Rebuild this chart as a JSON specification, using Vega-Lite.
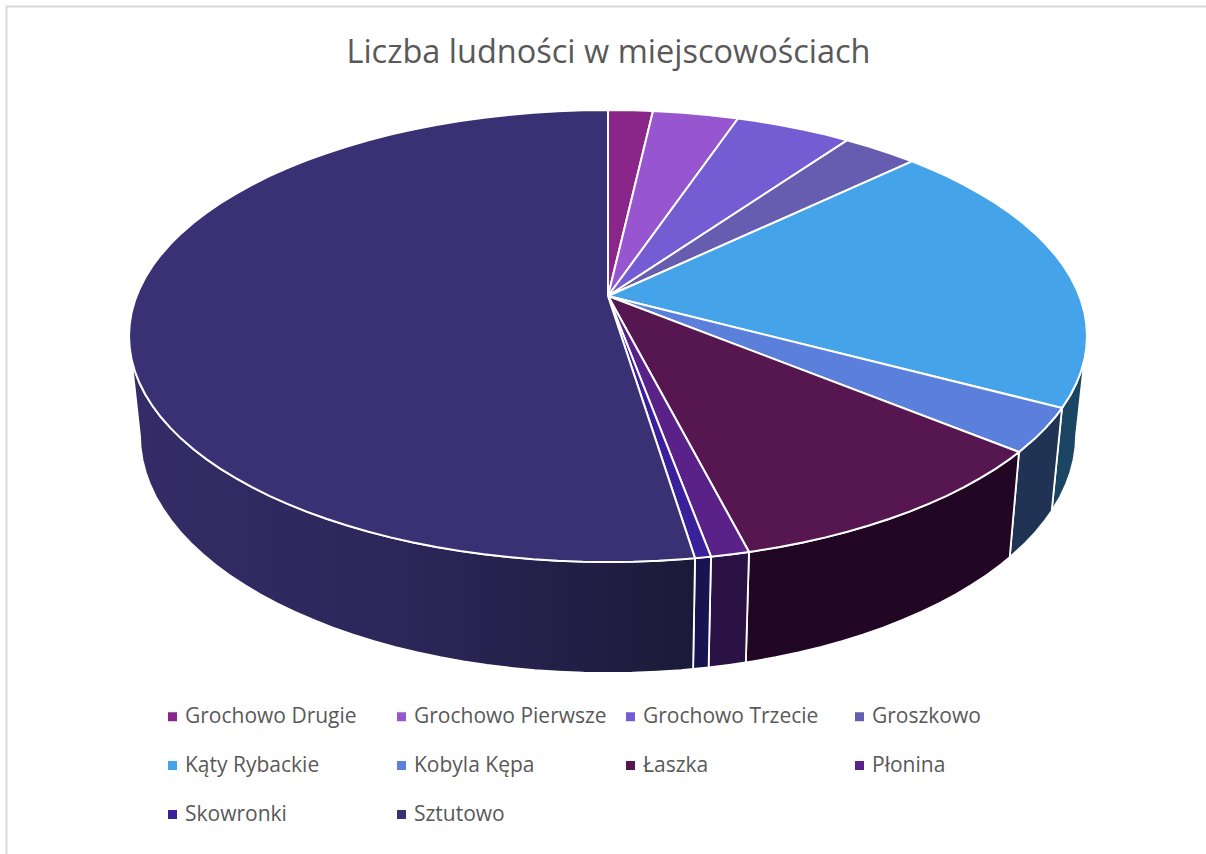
{"$schema":"https://vega.github.io/schema/vega-lite/v6.json","width":1206,"height":854,"padding":0,"autosize":{"type":"none"},"background":"white","config":{"view":{"stroke":null}},
"title":{"text":"Liczba ludności w miejscowościach","font":"Open Sans","fontSize":32.5,"fontWeight":"normal","color":"#595959","anchor":"middle","frame":"group","offset":-95,"dx":5.5,"baseline":"alphabetic"},
"projection":{"type":"identity","scale":1,"translate":[608,336],"reflectY":true},
"data":{"values":[
{"type":"Feature","properties":{"part":"frame"},"geometry":{"type":"LineString","coordinates":[[-601.5,-600],[-601.5,329.5],[700,329.5]]}},
{"type":"Feature","properties":{"part":"wall","name":"Kąty Rybackie"},"geometry":{"type":"Polygon","coordinates":[[[479,0],[478.3,-11.8],[476.4,-23.6],[473.1,-35.3],[468.5,-47],[462.7,-58.5],[454,-72],[443.7,-174.9],[452.2,-160.6],[457.9,-148.5],[462.3,-136.2],[465.5,-123.9],[467.4,-111.4],[468.1,-99],[479,0]]]}},
{"type":"Feature","properties":{"part":"wall","name":"Kobyla Kępa"},"geometry":{"type":"Polygon","coordinates":[[[454,-72],[447.2,-81],[437.6,-91.9],[426.8,-102.6],[411,-116],[401.7,-221.2],[417.1,-207.1],[427.7,-195.8],[437,-184.3],[443.7,-174.9],[454,-72]]]}},
{"type":"Feature","properties":{"part":"wall","name":"Łaszka"},"geometry":{"type":"Polygon","coordinates":[[[411,-116],[401.7,-123.1],[387.5,-132.8],[372.2,-142.2],[356,-151.2],[338.7,-159.8],[320.5,-167.9],[301.4,-175.6],[281.6,-182.8],[260.9,-189.5],[239.5,-195.7],[217.5,-201.4],[194.8,-206.5],[171.7,-211],[148,-214.9],[141,-216],[137.8,-326.5],[144.6,-325.4],[167.7,-321.2],[190.4,-316.4],[212.5,-311.1],[234.1,-305.1],[255,-298.6],[275.2,-291.5],[294.6,-283.9],[313.2,-275.9],[331,-267.3],[347.9,-258.2],[363.7,-248.8],[378.7,-238.9],[392.6,-228.6],[401.7,-221.2],[411,-116]]]}},
{"type":"Feature","properties":{"part":"wall","name":"Płonina"},"geometry":{"type":"Polygon","coordinates":[[[141,-216],[124,-218.3],[103,-220.7],[100.6,-331.4],[121.1,-328.9],[137.8,-326.5],[141,-216]]]}},
{"type":"Feature","properties":{"part":"wall","name":"Skowronki"},"geometry":{"type":"Polygon","coordinates":[[[103,-220.7],[87,-222.2],[85.1,-333],[100.6,-331.4],[103,-220.7]]]}},
{"type":"Feature","properties":{"part":"wallshade","name":"Sztutowo"},"geometry":{"type":"Polygon","coordinates":[[[87,-222.2],[74.9,-223.2],[50.1,-224.8],[25.1,-225.7],[0,-226],[-25.1,-225.7],[-50.1,-224.8],[-74.9,-223.2],[-99.6,-221],[-124,-218.3],[-148,-214.9],[-171.7,-211],[-194.8,-206.5],[-217.5,-201.4],[-239.5,-195.7],[-260.9,-189.5],[-281.6,-182.8],[-301.4,-175.6],[-320.5,-167.9],[-338.7,-159.8],[-356,-151.2],[-372.2,-142.2],[-387.5,-132.8],[-401.7,-123.1],[-414.8,-113],[-426.8,-102.6],[-437.6,-91.9],[-447.2,-81],[-455.6,-69.8],[-462.7,-58.5],[-468.5,-47],[-473.1,-35.3],[-476.4,-23.6],[-478.3,-11.8],[-479,0],[-468.1,-99],[-467.4,-111.4],[-465.5,-123.9],[-462.3,-136.2],[-457.9,-148.5],[-452.2,-160.6],[-445.2,-172.5],[-437,-184.3],[-427.7,-195.8],[-417.1,-207.1],[-405.4,-218],[-392.6,-228.6],[-378.7,-238.9],[-363.7,-248.8],[-347.9,-258.2],[-331,-267.3],[-313.2,-275.9],[-294.6,-283.9],[-275.2,-291.5],[-255,-298.6],[-234.1,-305.1],[-212.5,-311.1],[-190.4,-316.4],[-167.7,-321.2],[-144.6,-325.4],[-121.1,-328.9],[-97.3,-331.8],[-73.2,-334.2],[-48.9,-335.7],[-24.5,-336.7],[0,-337],[24.5,-336.7],[48.9,-335.7],[73.2,-334.2],[85.1,-333],[87,-222.2]]]}},
{"type":"Feature","properties":{"part":"top","name":"Grochowo Drugie","share":2.0},"geometry":{"type":"Polygon","coordinates":[[[0,40],[0,226],[25.1,225.7],[45,225],[0,40]]]}},
{"type":"Feature","properties":{"part":"top","name":"Grochowo Pierwsze","share":3.5},"geometry":{"type":"Polygon","coordinates":[[[0,40],[45,225],[74.9,223.2],[99.6,221],[124,218.3],[130,217.5],[0,40]]]}},
{"type":"Feature","properties":{"part":"top","name":"Grochowo Trzecie","share":5.0},"geometry":{"type":"Polygon","coordinates":[[[0,40],[130,217.5],[148,214.9],[171.7,211],[194.8,206.5],[217.5,201.4],[239,195.7],[0,40]]]}},
{"type":"Feature","properties":{"part":"top","name":"Groszkowo","share":3.0},"geometry":{"type":"Polygon","coordinates":[[[0,40],[239,195.7],[260.9,189.5],[281.6,182.8],[304,174.6],[0,40]]]}},
{"type":"Feature","properties":{"part":"top","name":"Kąty Rybackie","share":20.5},"geometry":{"type":"Polygon","coordinates":[[[0,40],[304,174.6],[320.5,167.9],[338.7,159.8],[356,151.2],[372.2,142.2],[387.5,132.8],[401.7,123.1],[414.8,113],[426.8,102.6],[437.6,91.9],[447.2,81],[455.6,69.8],[462.7,58.5],[468.5,47],[473.1,35.3],[476.4,23.6],[478.3,11.8],[479,0],[478.3,-11.8],[476.4,-23.6],[473.1,-35.3],[468.5,-47],[462.7,-58.5],[454,-72],[0,40]]]}},
{"type":"Feature","properties":{"part":"top","name":"Kobyla Kępa","share":3.5},"geometry":{"type":"Polygon","coordinates":[[[0,40],[454,-72],[447.2,-81],[437.6,-91.9],[426.8,-102.6],[411,-116],[0,40]]]}},
{"type":"Feature","properties":{"part":"top","name":"Łaszka","share":12.0},"geometry":{"type":"Polygon","coordinates":[[[0,40],[411,-116],[401.7,-123.1],[387.5,-132.8],[372.2,-142.2],[356,-151.2],[338.7,-159.8],[320.5,-167.9],[301.4,-175.6],[281.6,-182.8],[260.9,-189.5],[239.5,-195.7],[217.5,-201.4],[194.8,-206.5],[171.7,-211],[148,-214.9],[141,-216],[0,40]]]}},
{"type":"Feature","properties":{"part":"top","name":"Płonina","share":1.7},"geometry":{"type":"Polygon","coordinates":[[[0,40],[141,-216],[124,-218.3],[103,-220.7],[0,40]]]}},
{"type":"Feature","properties":{"part":"top","name":"Skowronki","share":0.8},"geometry":{"type":"Polygon","coordinates":[[[0,40],[103,-220.7],[87,-222.2],[0,40]]]}},
{"type":"Feature","properties":{"part":"top","name":"Sztutowo","share":48.5},"geometry":{"type":"Polygon","coordinates":[[[0,40],[87,-222.2],[74.9,-223.2],[50.1,-224.8],[25.1,-225.7],[0,-226],[-25.1,-225.7],[-50.1,-224.8],[-74.9,-223.2],[-99.6,-221],[-124,-218.3],[-148,-214.9],[-171.7,-211],[-194.8,-206.5],[-217.5,-201.4],[-239.5,-195.7],[-260.9,-189.5],[-281.6,-182.8],[-301.4,-175.6],[-320.5,-167.9],[-338.7,-159.8],[-356,-151.2],[-372.2,-142.2],[-387.5,-132.8],[-401.7,-123.1],[-414.8,-113],[-426.8,-102.6],[-437.6,-91.9],[-447.2,-81],[-455.6,-69.8],[-462.7,-58.5],[-468.5,-47],[-473.1,-35.3],[-476.4,-23.6],[-478.3,-11.8],[-479,0],[-478.3,11.8],[-476.4,23.6],[-473.1,35.3],[-468.5,47],[-462.7,58.5],[-455.6,69.8],[-447.2,81],[-437.6,91.9],[-426.8,102.6],[-414.8,113],[-401.7,123.1],[-387.5,132.8],[-372.2,142.2],[-356,151.2],[-338.7,159.8],[-320.5,167.9],[-301.4,175.6],[-281.6,182.8],[-260.9,189.5],[-239.5,195.7],[-217.5,201.4],[-194.8,206.5],[-171.7,211],[-148,214.9],[-124,218.3],[-99.6,221],[-74.9,223.2],[-50.1,224.8],[-25.1,225.7],[0,226],[0,40]]]}}
]},
"layer":[
{"transform":[{"filter":"datum.properties.part==='frame'"}],"mark":{"type":"geoshape","filled":false,"stroke":"#D9D9D9","strokeWidth":2},"encoding":{}},
{"transform":[{"filter":"datum.properties.part==='wall'"}],"mark":{"type":"geoshape","stroke":"white","strokeWidth":1.8},"encoding":{"color":{"field":"properties.name","type":"nominal","legend":null,"scale":{"domain":["Kąty Rybackie","Kobyla Kępa","Łaszka","Płonina","Skowronki"],"range":["#1A4563","#203355","#220725","#2B1245","#181452"]}}}},
{"transform":[{"filter":"datum.properties.part==='wallshade'"}],"mark":{"type":"geoshape","stroke":"white","strokeWidth":1.8,"fill":{"gradient":"linear","x1":0,"y1":0,"x2":1,"y2":0,"stops":[{"offset":0,"color":"#352C68"},{"offset":0.5,"color":"#2C2658"},{"offset":1,"color":"#1A1A38"}]}},"encoding":{}},
{"transform":[{"filter":"datum.properties.part==='top'"}],"mark":{"type":"geoshape","stroke":"white","strokeWidth":2},"encoding":{"color":{"field":"properties.name","type":"nominal","scale":{"domain":["Grochowo Drugie","Grochowo Pierwsze","Grochowo Trzecie","Groszkowo","Kąty Rybackie","Kobyla Kępa","Łaszka","Płonina","Skowronki","Sztutowo"],"range":["#8A2589","#9755CF","#745CD3","#665CB0","#44A3E9","#5A80DB","#561650","#5A2289","#3A209A","#3A3174"]},"legend":{"title":null,"orient":"none","direction":"horizontal","legendX":162,"legendY":706,"columns":4,"gridAlign":"all","columnPadding":13,"rowPadding":27,"symbolType":"square","symbolSize":81,"symbolStrokeWidth":0,"symbolOpacity":1,"labelFont":"Open Sans","labelFontSize":21,"labelColor":"#595959","labelOffset":2,"labelLimit":300,"padding":0}}}}
],
"resolve":{"scale":{"color":"independent"}}}
